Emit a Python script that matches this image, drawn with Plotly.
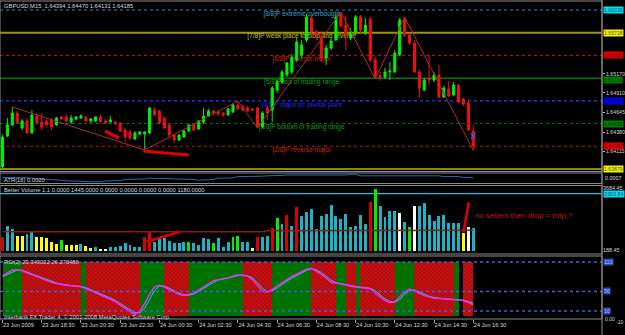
import plotly.graph_objects as go

# ---------------- data ----------------
bars = list(range(97))
time_ticks = list(range(0, 97, 8))
time_labels = ["23 Jun 2009", "23 Jun 18:30", "23 Jun 20:30", "23 Jun 22:30", "24 Jun 00:30",
               "24 Jun 02:30", "24 Jun 04:30", "24 Jun 06:30", "24 Jun 08:30", "24 Jun 10:30",
               "24 Jun 12:30", "24 Jun 14:30", "24 Jun 16:30"]

opens = [1.63906, 1.64326, 1.64475, 1.64638, 1.64435, 1.64530, 1.64367, 1.64598, 1.64516, 1.64530,
         1.64543, 1.64475, 1.64584, 1.64584, 1.64516, 1.64557, 1.64570, 1.64584, 1.64530, 1.64530,
         1.64584, 1.64530, 1.64516, 1.64516, 1.64503, 1.64408, 1.64381, 1.64285, 1.64353, 1.64353,
         1.64367, 1.64679, 1.64665, 1.64570, 1.64475, 1.64340, 1.64272, 1.64313, 1.64394, 1.64475,
         1.64421, 1.64516, 1.64598, 1.64665, 1.64652, 1.64638, 1.64611, 1.64652, 1.64747, 1.64720,
         1.64706, 1.64693, 1.64706, 1.64448, 1.64706, 1.64679, 1.64950, 1.65059, 1.65154, 1.65195,
         1.65358, 1.65425, 1.65629, 1.65927, 1.65737, 1.65670, 1.65385, 1.65520, 1.65629, 1.65982,
         1.65832, 1.65656, 1.65737, 1.65941, 1.65724, 1.65914, 1.65358, 1.65140, 1.65127, 1.65195,
         1.65195, 1.65425, 1.65914, 1.65697, 1.65588, 1.65195, 1.64950, 1.65113, 1.65086, 1.65154,
         1.64855, 1.64964, 1.64883, 1.65018, 1.64828, 1.64774, 1.64394]
highs = [1.64340, 1.64570, 1.64720, 1.64665, 1.64557, 1.64570, 1.64679, 1.64638, 1.64638, 1.64557,
         1.64570, 1.64584, 1.64598, 1.64625, 1.64611, 1.64598, 1.64625, 1.64598, 1.64570, 1.64598,
         1.64611, 1.64543, 1.64598, 1.64530, 1.64516, 1.64435, 1.64408, 1.64394, 1.64394, 1.64394,
         1.64720, 1.64720, 1.64679, 1.64584, 1.64489, 1.64353, 1.64353, 1.64408, 1.64489, 1.64489,
         1.64543, 1.64706, 1.64693, 1.64679, 1.64679, 1.64652, 1.64706, 1.64760, 1.64801, 1.64747,
         1.64733, 1.64706, 1.64720, 1.64665, 1.64733, 1.65005, 1.65086, 1.65222, 1.65330, 1.65439,
         1.65656, 1.65629, 1.65982, 1.65968, 1.65765, 1.65737, 1.65561, 1.65656, 1.65982, 1.66009,
         1.65955, 1.65792, 1.65968, 1.65968, 1.65927, 1.65941, 1.65398, 1.65195, 1.65249, 1.65330,
         1.65493, 1.65927, 1.65941, 1.65724, 1.65629, 1.65222, 1.65113, 1.65425, 1.65195, 1.65290,
         1.65005, 1.65073, 1.65059, 1.65032, 1.64842, 1.64801, 1.64470]
lows = [1.63892, 1.64313, 1.64462, 1.64489, 1.64408, 1.64353, 1.64353, 1.64489, 1.64408, 1.64448,
        1.64408, 1.64462, 1.64543, 1.64516, 1.64489, 1.64543, 1.64557, 1.64516, 1.64503, 1.64516,
        1.64503, 1.64489, 1.64503, 1.64475, 1.64381, 1.64245, 1.64272, 1.64272, 1.64340, 1.64136,
        1.64353, 1.64598, 1.64489, 1.64421, 1.64313, 1.64231, 1.64258, 1.64299, 1.64381, 1.64394,
        1.64408, 1.64489, 1.64584, 1.64611, 1.64598, 1.64584, 1.64598, 1.64638, 1.64679, 1.64665,
        1.64652, 1.64665, 1.64435, 1.64435, 1.64543, 1.64516, 1.64910, 1.65032, 1.65127, 1.65168,
        1.65330, 1.65385, 1.65602, 1.65670, 1.65656, 1.65330, 1.65290, 1.65493, 1.65615, 1.65792,
        1.65493, 1.65629, 1.65697, 1.65724, 1.65697, 1.65330, 1.65100, 1.65073, 1.65100, 1.65086,
        1.65181, 1.65412, 1.65670, 1.65561, 1.65181, 1.64842, 1.64937, 1.65018, 1.65059, 1.64842,
        1.64842, 1.64855, 1.64869, 1.64774, 1.64733, 1.64394, 1.64131]
closes = [1.64313, 1.64475, 1.64638, 1.64503, 1.64530, 1.64367, 1.64611, 1.64503, 1.64448, 1.64475,
          1.64448, 1.64570, 1.64557, 1.64530, 1.64570, 1.64584, 1.64598, 1.64530, 1.64557, 1.64584,
          1.64516, 1.64503, 1.64543, 1.64489, 1.64394, 1.64313, 1.64299, 1.64367, 1.64381, 1.64381,
          1.64706, 1.64611, 1.64503, 1.64435, 1.64340, 1.64272, 1.64340, 1.64394, 1.64475, 1.64408,
          1.64530, 1.64598, 1.64665, 1.64638, 1.64625, 1.64611, 1.64693, 1.64747, 1.64693, 1.64679,
          1.64665, 1.64679, 1.64448, 1.64638, 1.64638, 1.64978, 1.65059, 1.65195, 1.65317, 1.65398,
          1.65602, 1.65561, 1.65941, 1.65737, 1.65683, 1.65385, 1.65520, 1.65615, 1.65941, 1.65819,
          1.65697, 1.65737, 1.65941, 1.65765, 1.65832, 1.65358, 1.65127, 1.65113, 1.65195, 1.65208,
          1.65452, 1.65900, 1.65697, 1.65588, 1.65195, 1.64978, 1.65086, 1.65086, 1.65154, 1.64855,
          1.64978, 1.64869, 1.65018, 1.64788, 1.64760, 1.64408, 1.64185]

murrey_levels = [1.66036, 1.65728, 1.65420, 1.65111, 1.64803, 1.64495, 1.64187, 1.63879]
murrey_texts = ["[8/8]P extreme overbought", "[7/8]P weak place to stop and reverse",
                "[6/8]P reverse major", "[5/8]P top of trading range",
                "[4/8]P major s/r pivotal point", "[3/8]P bottom of trading range",
                "[2/8]P reverse major", ""]
price_ticks = [1.65170, 1.64910, 1.64645, 1.64380, 1.64115]

zigzag_bars = [2, 29, 48, 52, 69, 76, 82, 96]
zigzag_side = ["H", "L", "H", "L", "H", "L", "H", "L"]

mark1_x = [20.9, 23.8]
mark1_y = [1.64394, 1.64299]
mark2_x = [28.7, 38.0]
mark2_y = [1.64123, 1.64068]
order_bar = [96]
order_price = [1.64326]

atr = [0.0019, 0.0019, 0.0018, 0.0018, 0.0018, 0.0018, 0.0017, 0.0015, 0.0015, 0.0014,
       0.0013, 0.0012, 0.0012, 0.0010, 0.0010, 0.0010, 0.0009, 0.0008, 0.0008, 0.0008,
       0.0008, 0.0010, 0.0010, 0.0010, 0.0011, 0.0014, 0.0014, 0.0014, 0.0014, 0.0015,
       0.0017, 0.0017, 0.0017, 0.0017, 0.0016, 0.0015, 0.0015, 0.0015, 0.0015, 0.0014,
       0.0012, 0.0012, 0.0013, 0.0014, 0.0017, 0.0017, 0.0017, 0.0018, 0.0021, 0.0021,
       0.0021, 0.0021, 0.0022, 0.0022, 0.0023, 0.0023, 0.0023, 0.0024, 0.0025, 0.0025,
       0.0025, 0.0025, 0.0025, 0.0025, 0.0025, 0.0025, 0.0025, 0.0025, 0.0025, 0.0025,
       0.0025, 0.0027, 0.0027, 0.0023, 0.0023, 0.0023, 0.0023, 0.0023, 0.0023, 0.0023,
       0.0023, 0.0023, 0.0023, 0.0023, 0.0023, 0.0023, 0.0023, 0.0023, 0.0023, 0.0023,
       0.0021, 0.0021, 0.0021, 0.0021, 0.0019, 0.0018, 0.0018]

volume = [978, 1598, 1410, 997, 997, 1128, 1222, 940, 940, 884,
          658, 564, 790, 527, 527, 508, 564, 470, 320, 376,
          282, 245, 376, 414, 433, 621, 527, 414, 376, 940,
          1222, 696, 846, 903, 715, 602, 602, 658, 658, 602,
          508, 903, 846, 621, 884, 414, 696, 940, 997, 696,
          696, 339, 940, 978, 1034, 1467, 2031, 1655, 2200, 1560,
          2651, 2106, 2350, 2538, 1410, 2162, 2256, 2764, 2124, 1974,
          2256, 1542, 1560, 2200, 1692, 2914, 3666, 2670, 2068, 2444,
          2406, 2293, 1786, 1504, 2670, 2670, 2876, 2218, 1880, 2162,
          2200, 1748, 1748, 1748, 1166, 1504, 1445]
volume_type = ["r", "c", "c", "y", "y", "c", "c", "y", "y", "y",
               "y", "y", "g", "y", "y", "y", "c", "y", "y", "c",
               "w", "w", "c", "c", "c", "c", "c", "c", "c", "r",
               "r", "c", "c", "c", "c", "c", "c", "c", "g", "c",
               "c", "c", "c", "g", "c", "c", "c", "g", "g", "c",
               "c", "y", "r", "c", "c", "r", "g", "c", "r", "c",
               "r", "c", "c", "c", "c", "c", "c", "c", "c", "c",
               "c", "c", "c", "c", "c", "r", "g", "c", "c", "c",
               "c", "w", "c", "g", "w", "c", "c", "c", "c", "c",
               "c", "c", "c", "c", "y", "w", "c"]
volume_ma = [1222, 1222, 1222, 1222, 1222, 1222, 1222, 1222, 1222, 1222,
             1222, 1222, 1222, 1260, 1260, 1260, 1260, 1260, 1260, 1260,
             1260, 1260, 1260, 1260, 1260, 1260, 1260, 1260, 1260, 1260,
             1260, 1260, 1260, 1260, 1260, 1260, 1260, 1260, 1260, 1222,
             1222, 1222, 1222, 1222, 1222, 1222, 1222, 1222, 1222, 1222,
             1222, 1222, 1222, 1222, 1278, 1278, 1278, 1278, 1278, 1278,
             1278, 1278, 1278, 1278, 1278, 1278, 1300, 1300, 1300, 1300,
             1300, 1300, 1300, 1300, 1300, 1300, 1300, 1300, 1300, 1300,
             1300, 1300, 1300, 1300, 1300, 1300, 1300, 1300, 1300, 1300,
             1300, 1300, 1300, 1300, 1300, 1300, 1300]
volume_min, volume_max, volume_climax = 188.45, 3684.45, 3363.84
vmark1_x = [29.4, 36.2]
vmark1_y = [656, 1220]
vmark2_x = [94.0, 95.1]
vmark2_y = [1220, 2878]
note_bar, note_vol = 95.9, 2123

rsi_main = [81.6, 87.6, 93.5, 94.0, 91.9, 87.8, 83.7, 80.0, 76.0, 71.9,
            68.4, 66.0, 63.7, 62.3, 61.4, 60.8, 59.6, 55.7, 51.6, 47.2,
            42.9, 38.4, 34.1, 28.9, 21.9, 15.3, 8.7, 3.8, 8.7, 25.0,
            44.3, 59.4, 62.7, 59.0, 53.6, 48.5, 44.1, 41.5, 43.1, 46.2,
            52.8, 58.8, 65.1, 71.9, 74.0, 75.8, 78.1, 81.0, 83.9, 82.6,
            81.2, 73.8, 61.4, 50.9, 48.5, 53.4, 60.6, 68.2, 74.2, 80.4,
            85.7, 90.9, 95.0, 97.0, 91.3, 85.3, 76.9, 68.6, 67.0, 65.5,
            63.1, 60.6, 59.6, 58.5, 57.1, 55.5, 46.8, 38.2, 31.4, 27.3,
            28.3, 39.2, 48.5, 54.6, 51.1, 46.2, 41.3, 38.6, 35.9, 35.3,
            34.7, 34.1, 33.2, 33.2, 31.4, 27.1, 23.3]
rsi_signal = [80.0, 84.5, 90.5, 93.7, 93.0, 89.9, 85.8, 81.9, 78.0, 74.0,
              70.2, 67.2, 64.9, 63.0, 61.9, 61.1, 60.2, 57.7, 53.7, 49.4,
              45.1, 40.7, 36.3, 31.5, 25.4, 18.6, 12.0, 6.3, 6.0, 16.0,
              34.0, 51.8, 61.0, 60.9, 56.3, 51.1, 46.3, 42.8, 42.3, 44.6,
              49.5, 55.8, 62.0, 68.5, 73.0, 74.9, 77.0, 79.6, 82.5, 83.3,
              81.9, 77.5, 67.6, 56.2, 49.7, 51.0, 57.0, 64.4, 71.2, 77.3,
              83.1, 88.3, 93.0, 96.0, 94.2, 88.3, 81.1, 72.8, 67.8, 66.3,
              64.3, 61.9, 60.1, 59.0, 57.8, 56.3, 51.2, 42.5, 34.8, 29.4,
              27.8, 33.8, 43.9, 51.6, 52.9, 48.7, 43.8, 40.0, 37.3, 35.6,
              35.0, 34.4, 33.7, 33.2, 32.3, 29.3, 26.3]
rsi_state = ["G", "G", "G", "G", "R", "R", "R", "R", "R", "R",
             "R", "R", "R", "R", "R", "R", "G", "R", "R", "R",
             "R", "R", "R", "R", "R", "R", "R", "R", "G", "G",
             "G", "G", "G", "R", "R", "R", "R", "R", "G", "G",
             "G", "G", "G", "G", "G", "G", "G", "G", "G", "R",
             "R", "R", "R", "R", "R", "G", "G", "G", "G", "G",
             "G", "G", "G", "R", "R", "R", "R", "R", "G", "G",
             "R", "R", "G", "R", "R", "R", "R", "R", "R", "R",
             "G", "G", "G", "G", "R", "R", "R", "R", "R", "R",
             "R", "R", "G", "N", "R", "R", "N"]
rsi_levels = [110, 50, 10]
rsi_column_top = 110

# ---------------- styles / geometry ----------------
H = 335.0
FONT = "Liberation Sans, Arial, sans-serif"
TXT = "#d8d8d8"


def dom(top_px, bot_px):
    return [1 - bot_px / H, 1 - top_px / H]


x_range = [-0.51, 122.25]
price_range = [1.638445, 1.661581]
atr_range = [0.000375, 0.0030]
vol_range = [-37.1, 3825.6]
rsi_range = [-6.3, 122.2]

murrey_line = [("#1e8fd0", "dot", 1), ("#9a9a00", "solid", 2), ("#d01010", "dot", 1),
               ("#007a00", "solid", 1.5), ("#2828e8", "dot", 1.5), ("#007a00", "dot", 1),
               ("#d01010", "dot", 1), ("#b8b800", "solid", 1.5)]
murrey_txtcol = ["#3aa0d0", "#c8c000", "#d02020", "#1e9a1e", "#2a2af0", "#1e9a1e", "#d02020", "#000"]
murrey_box = [("#00e0f0", "#006070"), ("#f0f000", "#606000"), ("#e00000", "#700000"),
              ("#008000", "#003800"), ("#0000f0", "#000070"), ("#008000", "#003800"),
              ("#e00000", "#700000"), ("#f0f000", "#606000")]
murrey_box_shift = [0, 0, 0, -2, 0, 0, 0, 0]
vol_colmap = {"c": "#1cb4c4", "y": "#ffff00", "g": "#00ee00", "r": "#dd0000", "w": "#ffffff"}

fig = go.Figure()

# Murrey text labels (base layer, below candles)
fig.add_trace(go.Scatter(
    x=[61] * 7, y=[lv - 0.00055 for lv in murrey_levels[:7]], mode="text",
    text=murrey_texts[:7], textposition="middle center",
    textfont=dict(size=6.5, color=murrey_txtcol[:7], family=FONT),
    xaxis="x", yaxis="y", hoverinfo="skip"))

# candles on overlay axis
fig.add_trace(go.Candlestick(
    x=bars, open=opens, high=highs, low=lows, close=closes,
    increasing=dict(line=dict(color="#00f000", width=1), fillcolor="#00f000"),
    decreasing=dict(line=dict(color="#f01010", width=1), fillcolor="#f01010"),
    whiskerwidth=0, xaxis="x", yaxis="y5", hoverinfo="skip"))

zz_y = [highs[b] if s == "H" else lows[b] for b, s in zip(zigzag_bars, zigzag_side)]
fig.add_trace(go.Scatter(x=zigzag_bars, y=zz_y, mode="lines",
                         line=dict(color="#a8302a", width=1), xaxis="x", yaxis="y5"))
for mx, my in ((mark1_x, mark1_y), (mark2_x, mark2_y)):
    fig.add_trace(go.Scatter(x=mx, y=my, mode="lines", line=dict(color="#e00000", width=3.2),
                             xaxis="x", yaxis="y5"))
fig.add_trace(go.Scatter(x=order_bar, y=order_price, mode="markers",
                         marker=dict(symbol="x-thin", size=5, line=dict(color="#4a4aff", width=1.2)),
                         xaxis="x", yaxis="y5"))

# ATR
fig.add_trace(go.Scatter(x=bars, y=atr, mode="lines", line=dict(color="#1f6fc0", width=1),
                         xaxis="x", yaxis="y2"))

# Volume
fig.add_trace(go.Bar(x=bars, y=[v - volume_min for v in volume], base=volume_min, width=0.6,
                     marker=dict(color=[vol_colmap[t] for t in volume_type], line=dict(width=0)),
                     xaxis="x", yaxis="y3"))
fig.add_trace(go.Scatter(x=bars, y=volume_ma, mode="lines", line=dict(color="#8a1c1c", width=1.5),
                         xaxis="x", yaxis="y3"))
for mx, my in ((vmark1_x, vmark1_y), (vmark2_x, vmark2_y)):
    fig.add_trace(go.Scatter(x=mx, y=my, mode="lines", line=dict(color="#e00000", width=2.5),
                             xaxis="x", yaxis="y3"))

# RSI columns
g_idx = [i for i, s in enumerate(rsi_state) if s == "G"]
r_idx = [i for i, s in enumerate(rsi_state) if s == "R"]
fig.add_trace(go.Bar(x=g_idx, y=[rsi_column_top] * len(g_idx), width=1, offset=0,
                     marker=dict(color="#007200", line=dict(width=0)), xaxis="x", yaxis="y4"))
fig.add_trace(go.Bar(x=r_idx, y=[rsi_column_top] * len(r_idx), width=1, offset=0,
                     marker=dict(color="#c81010", line=dict(width=0),
                                 pattern=dict(shape="x", fgcolor="#4a0000", size=3, solidity=0.3)),
                     xaxis="x", yaxis="y4"))
fig.add_trace(go.Scatter(x=bars, y=rsi_signal, mode="lines", line=dict(color="#00e0e0", width=1),
                         xaxis="x", yaxis="y4"))
fig.add_trace(go.Scatter(x=bars, y=rsi_main, mode="lines", line=dict(color="#ff20ff", width=1.5),
                         xaxis="x", yaxis="y4"))

shapes = []
for lv, (c, d, w) in zip(murrey_levels, murrey_line):
    shapes.append(dict(type="line", xref="paper", x0=0, x1=1, yref="y", y0=lv, y1=lv,
                       line=dict(color=c, dash=d, width=w), layer="below"))
shapes.append(dict(type="line", xref="paper", x0=0, x1=1, yref="y3", y0=volume_climax, y1=volume_climax,
                   line=dict(color="#10c8e0", width=1.2), layer="below"))
for lv in rsi_levels:
    shapes.append(dict(type="line", xref="paper", x0=0, x1=1, yref="y4", y0=lv, y1=lv,
                       line=dict(color="#4a5ae8", dash="dot", width=1.5), layer="above"))
for ax in ("y", "y2", "y3", "y4"):
    shapes.append(dict(type="rect", xref="paper", x0=0, x1=1, yref=ax + " domain", y0=0, y1=1,
                       line=dict(color="#8a8a8a", width=1), layer="above"))
shapes.append(dict(type="line", xref="paper", x0=1, x1=1, yref="paper", y0=0, y1=1,
                   line=dict(color="#8a8a8a", width=1)))

ann = []
for lv, (bg, fc), ys in zip(murrey_levels, murrey_box, murrey_box_shift):
    ann.append(dict(xref="paper", x=1, xanchor="left", xshift=1, yref="y", y=lv, yanchor="middle",
                    yshift=ys, text=f"{lv:.5f}", showarrow=False, bgcolor=bg, borderpad=0,
                    font=dict(size=5.2, color=fc, family=FONT)))
ann.append(dict(xref="paper", x=1, xanchor="left", xshift=1, yref="y3", y=volume_climax,
                yanchor="middle", text=f"{volume_climax:.2f}", showarrow=False, bgcolor="#10d8f0",
                borderpad=0, font=dict(size=5.4, color="#006070", family=FONT)))
for lv in rsi_levels:
    ann.append(dict(xref="paper", x=1, xanchor="left", xshift=1, yref="y4", y=lv, yanchor="middle",
                    text=str(lv), showarrow=False, bgcolor="#2a48c0", borderpad=0,
                    font=dict(size=5.4, color="#b8c4ff", family=FONT)))
ann.append(dict(xref="paper", x=1, xanchor="left", xshift=1, yref="y2 domain", y=0.52,
                yanchor="middle", text="0.0007", showarrow=False,
                font=dict(size=5.4, color=TXT, family=FONT)))
ann.append(dict(xref="paper", x=1, xanchor="left", xshift=1, yref="paper", y=1 - 318.5 / H,
                yanchor="middle", text="0.00", showarrow=False, font=dict(size=5.0, color=TXT, family=FONT)))
ann.append(dict(xref="paper", x=1, xanchor="left", xshift=12, yref="paper", y=1 - 322 / H,
                yanchor="middle", text="-10", showarrow=False, font=dict(size=5.0, color=TXT, family=FONT)))

titles = [("GBPUSD,M15  1.64394 1.64470 1.64131 1.64185", 6),
          ("ATR(16) 0.0020", 180),
          ("Better Volume 1.1 0.0000 1445.0000 0.0000 0.0000 0.0000 0.0000 1180.0000", 190),
          ("RSI(2) 23.343022 26.270486", 262),
          ("Interbank FX Trader 4, \u00a9 2001-2008 MetaQuotes Software Corp.", 317)]
for t, ypx in titles:
    ann.append(dict(xref="paper", x=0.004, xanchor="left", yref="paper", y=1 - ypx / H,
                    yanchor="middle", text=t, showarrow=False,
                    font=dict(size=5.8, color=TXT, family=FONT)))
ann.append(dict(xref="x", x=note_bar, xanchor="left", yref="y3", y=note_vol, yanchor="middle",
                text="no sellers then drop = trap ?", showarrow=False,
                font=dict(size=7.8, color="#c01818", family=FONT)))

axis_common = dict(showgrid=False, zeroline=False, showline=False, fixedrange=True)
fig.update_layout(
    width=625, height=335, margin=dict(l=0, r=23, t=0, b=0),
    paper_bgcolor="black", plot_bgcolor="black", showlegend=False, hovermode=False,
    boxgap=0.4, bargap=0,
    font=dict(family=FONT, color=TXT, size=5.6),
    xaxis=dict(anchor="y4", range=x_range, tickmode="array", tickvals=time_ticks, ticktext=time_labels,
               ticks="outside", ticklen=3, tickcolor="#a0a0a0", ticklabelposition="outside right",
               tickangle=0, tickfont=dict(size=5.6, color=TXT), rangeslider=dict(visible=False),
               **axis_common),
    yaxis=dict(domain=dom(1, 171.5), range=price_range, side="right", anchor="x", tickmode="array",
               tickvals=price_ticks, ticktext=[f"{p:.5f}" for p in price_ticks], ticks="outside",
               ticklen=2, tickcolor="#c0c0c0", tickfont=dict(size=5.2, color=TXT), **axis_common),
    yaxis5=dict(overlaying="y", range=price_range, side="right", anchor="x", visible=False, **axis_common),
    yaxis2=dict(domain=dom(173, 183.5), range=atr_range, side="right", anchor="x",
                showticklabels=False, ticks="", **axis_common),
    yaxis3=dict(domain=dom(185.5, 254), range=vol_range, side="right", anchor="x", tickmode="array",
                tickvals=[volume_min, volume_max], ticktext=[f"{volume_min:.2f}", f"{volume_max:.2f}"],
                ticks="", tickfont=dict(size=5.4, color=TXT), **axis_common),
    yaxis4=dict(domain=dom(256, 319), range=rsi_range, side="right", anchor="x",
                showticklabels=False, ticks="", **axis_common),
    shapes=shapes, annotations=ann,
)

fig.write_html("out.html")
